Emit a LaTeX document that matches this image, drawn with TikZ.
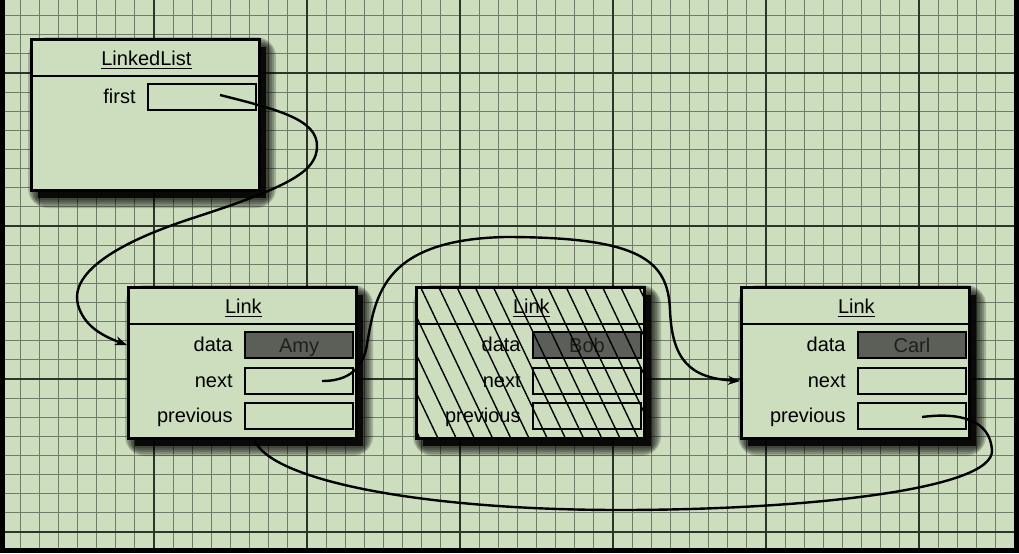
\documentclass[tikz,border=0pt]{standalone}
\usepackage{fontspec}
\setmainfont{Liberation Sans}
\usepackage{xcolor}
\usetikzlibrary{positioning,arrows.meta,calc}
\definecolor{paper}{RGB}{204,222,190}
\definecolor{gridminor}{RGB}{112,124,104}
\definecolor{gridmajor}{RGB}{45,52,42}
\definecolor{slotgray}{RGB}{92,94,88}
\definecolor{slottext}{RGB}{30,32,28}

\begin{document}
\begin{tikzpicture}[x=0.5pt,y=-0.5pt,
  box/.style={draw,line width=1.4pt,fill=paper,minimum width=114pt,minimum height=75.5pt,inner sep=0pt,anchor=north west},
  slot/.style={draw,line width=1pt,fill=paper,minimum width=54pt,minimum height=13pt,inner sep=0pt,anchor=north west,text height=7.2pt,text depth=0pt},
  dataslot/.style={slot,fill=slotgray,text=slottext,font=\color{slottext}},
  field/.style={anchor=base east,inner sep=0pt},
  head/.style={anchor=base,inner sep=0pt},
  uline/.style={line width=0.9pt},
  ptr/.style={line width=1.2pt},
  hatch/.style={line width=0.7pt}]
  \useasboundingbox (0,0) rectangle (1019,553);
  \fill[paper] (0,0) rectangle (1019,553);
  % graph paper
  \foreach \k in {0,...,53} \draw[gridminor,line width=0.6pt] ({1+19.125*\k},0) -- ({1+19.125*\k},553);
  \foreach \k in {0,...,28} \draw[gridminor,line width=0.6pt] (0,{15.6+19.125*\k}) -- (1019,{15.6+19.125*\k});
  \foreach \k in {0,8,...,48} \draw[gridmajor,line width=0.9pt] ({1+19.125*\k},0) -- ({1+19.125*\k},553);
  \foreach \k in {3,11,19,27} \draw[gridmajor,line width=0.9pt] (0,{15.6+19.125*\k}) -- (1019,{15.6+19.125*\k});
  \draw[black,line width=2.5pt] (2,0) -- (2,550) -- (1016,550) -- (1016,0);
  % shadows
  \foreach \bx/\by in {30/38,127/286,415/286,740/286}{
    \foreach \s in {10,8,6,4,2} \fill[black,opacity=0.2,rounded corners=\s] ({\bx+8-\s},{\by+9-\s}) rectangle ({\bx+236+\s},{\by+160+\s});
    \fill[black,opacity=0.85] (\bx+8,\by+9) rectangle (\bx+236,\by+160);
  }
  % LinkedList
  \node[box] (list) at (30,38) {};\draw[line width=1.2pt] ($(list.north west)+(0,38)$) -- ($(list.north east)+(0,38)$);
  \node[head] (listtitle) at ($(list.north)+(1,27)$) {LinkedList};\draw[uline] ($(listtitle.base west)+(0,3.5)$) -- ($(listtitle.base east)+(0,3.5)$);
  \node[slot] (first) at ($(list.north west)+(117,45)$) {};\node[field] at ($(first.west)+(-11,6)$) {first};
  % Link: Amy
  \node[box] (amy) at (127,286) {};\draw[line width=1.2pt] ($(amy.north west)+(0,38)$) -- ($(amy.north east)+(0,38)$);
  \node[head] (amytitle) at ($(amy.north)+(1,27)$) {Link};\draw[uline] ($(amytitle.base west)+(0,3.5)$) -- ($(amytitle.base east)+(0,3.5)$);
  \node[dataslot] (amydata) at ($(amy.north west)+(117,45)$) {Amy};\node[field] at ($(amydata.west)+(-11,6)$) {data};
  \node[slot] (amynext) at ($(amy.north west)+(117,81)$) {};\node[field] at ($(amynext.west)+(-11,6)$) {next};
  \node[slot] (amyprev) at ($(amy.north west)+(117,116)$) {};\node[field] at ($(amyprev.west)+(-11,6)$) {previous};
  % Link: Bob (removed)
  \node[box] (bob) at (415,286) {};\draw[line width=1.2pt] ($(bob.north west)+(0,38)$) -- ($(bob.north east)+(0,38)$);
  \node[head] (bobtitle) at ($(bob.north)+(1,27)$) {Link};\draw[uline] ($(bobtitle.base west)+(0,3.5)$) -- ($(bobtitle.base east)+(0,3.5)$);
  \node[dataslot] (bobdata) at ($(bob.north west)+(117,45)$) {Bob};\node[field] at ($(bobdata.west)+(-11,6)$) {data};
  \node[slot] (bobnext) at ($(bob.north west)+(117,81)$) {};\node[field] at ($(bobnext.west)+(-11,6)$) {next};
  \node[slot] (bobprev) at ($(bob.north west)+(117,116)$) {};\node[field] at ($(bobprev.west)+(-11,6)$) {previous};
  \begin{scope}
    \clip (bob.north west) rectangle (bob.south east);
    \foreach \k in {-4,...,12} \draw[hatch] ({420+18.2*\k},286) -- ++(72,151);
  \end{scope}
  % Link: Carl
  \node[box] (carl) at (740,286) {};\draw[line width=1.2pt] ($(carl.north west)+(0,38)$) -- ($(carl.north east)+(0,38)$);
  \node[head] (carltitle) at ($(carl.north)+(1,27)$) {Link};\draw[uline] ($(carltitle.base west)+(0,3.5)$) -- ($(carltitle.base east)+(0,3.5)$);
  \node[dataslot] (carldata) at ($(carl.north west)+(117,45)$) {Carl};\node[field] at ($(carldata.west)+(-11,6)$) {data};
  \node[slot] (carlnext) at ($(carl.north west)+(117,81)$) {};\node[field] at ($(carlnext.west)+(-11,6)$) {next};
  \node[slot] (carlprev) at ($(carl.north west)+(117,116)$) {};\node[field] at ($(carlprev.west)+(-11,6)$) {previous};
  % pointers
  \coordinate (firstdot) at ($(first.center)+(18,-2)$);
  \coordinate (amydot) at ($(amynext.center)+(23,0)$);
  \coordinate (carldot) at ($(carlprev.center)+(10,1)$);
  \coordinate (amyback) at ($(amy.south)+(12,0)$);
  \draw[ptr,-{Stealth[length=6pt,width=4.5pt]}] (firstdot) .. controls (280,110) and (318,120) .. (317,147)
    .. controls (316,170) and (295,185) .. (193,218) .. controls (110,245) and (70,275) .. (78,305)
    .. controls (84,325) and (100,335) .. (amydata.west -| amy.west);
  \draw[ptr,-{Stealth[length=6pt,width=4.5pt]}] (amydot) .. controls (345,381) and (360,372) .. (366,350)
    .. controls (375,300) and (378,240) .. (505,237) .. controls (640,237) and (668,260) .. (670,310)
    .. controls (672,360) and (690,378) .. (carlnext.west -| carl.west);
  \draw[ptr] (carldot) .. controls (960,412) and (990,420) .. (992,450)
    .. controls (995,490) and (800,510) .. (620,510) .. controls (420,510) and (270,480) .. (amyback);
\end{tikzpicture}
\end{document}
